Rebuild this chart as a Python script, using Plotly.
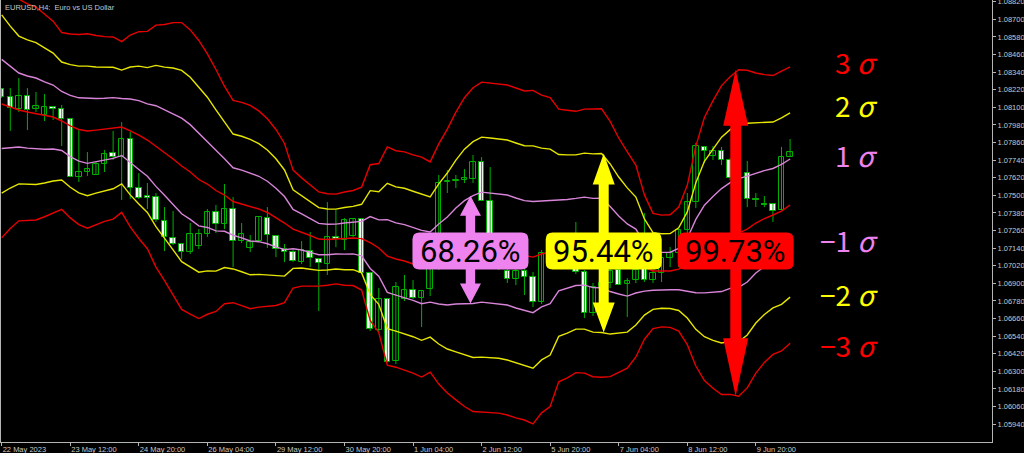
import plotly.graph_objects as go

# ---------------- data (EURUSD H4) ----------------
bars = list(range(93))

opens = [1.08225, 1.08171, 1.08089, 1.08177, 1.08089, 1.08048, 1.08102, 1.08089, 1.08020, 1.07625,
         1.07659, 1.07639, 1.07714, 1.07789, 1.07761, 1.07884, 1.07550, 1.07495, 1.07489, 1.07325,
         1.07209, 1.07168, 1.07113, 1.07154, 1.07236, 1.07386, 1.07304, 1.07407, 1.07188, 1.07141,
         1.07188, 1.07345, 1.07222, 1.07134, 1.07113, 1.07045, 1.07120, 1.07066, 1.07032, 1.07216,
         1.07195, 1.07222, 1.07338, 1.06970, 1.06581, 1.06793, 1.06370, 1.06793, 1.06854, 1.06800,
         1.06861, 1.07004, 1.07591, 1.07598, 1.07604, 1.07611, 1.07727, 1.07461, 1.07195, 1.06984,
         1.06929, 1.06984, 1.06943, 1.06772, 1.07107, 1.07059, 1.07141, 1.07018, 1.06977, 1.06697,
         1.06875, 1.06902, 1.06991, 1.06895, 1.06922, 1.07004, 1.06922, 1.06970, 1.07072, 1.07107,
         1.07263, 1.07454, 1.07830, 1.07768, 1.07802, 1.07741, 1.07618, 1.07652, 1.07475, 1.07441,
         1.07441, 1.07400, 1.07761]
highs = [1.08232, 1.08232, 1.08300, 1.08232, 1.08205, 1.08191, 1.08102, 1.08116, 1.08020, 1.07945,
         1.07795, 1.07727, 1.07809, 1.07939, 1.08000, 1.07932, 1.07652, 1.07584, 1.07516, 1.07420,
         1.07393, 1.07175, 1.07311, 1.07270, 1.07407, 1.07434, 1.07577, 1.07489, 1.07311, 1.07229,
         1.07352, 1.07420, 1.07222, 1.07168, 1.07127, 1.07188, 1.07250, 1.07066, 1.07454, 1.07400,
         1.07345, 1.07345, 1.07338, 1.06970, 1.06868, 1.06793, 1.06909, 1.06957, 1.06922, 1.06847,
         1.07025, 1.07639, 1.07673, 1.07639, 1.07679, 1.07775, 1.07761, 1.07693, 1.07209, 1.07025,
         1.07004, 1.07045, 1.06977, 1.07127, 1.07161, 1.07222, 1.07195, 1.07318, 1.06991, 1.06902,
         1.06991, 1.07004, 1.07018, 1.06936, 1.07018, 1.07379, 1.06991, 1.07107, 1.07147, 1.07263,
         1.07516, 1.07857, 1.07830, 1.07836, 1.07830, 1.07754, 1.07707, 1.07734, 1.07516, 1.07495,
         1.07441, 1.07830, 1.07884]
lows = [1.08164, 1.07939, 1.08068, 1.07945, 1.08068, 1.08007, 1.08014, 1.07836, 1.07625, 1.07591,
        1.07632, 1.07639, 1.07659, 1.07741, 1.07468, 1.07475, 1.07475, 1.07407, 1.07318, 1.07120,
        1.07161, 1.07066, 1.07100, 1.07134, 1.07216, 1.07243, 1.07270, 1.07011, 1.07175, 1.07113,
        1.07182, 1.07141, 1.07079, 1.07045, 1.07045, 1.07032, 1.07011, 1.06711, 1.06957, 1.07147,
        1.07127, 1.07216, 1.06963, 1.06575, 1.06568, 1.06363, 1.06350, 1.06779, 1.06793, 1.06602,
        1.06813, 1.06991, 1.07516, 1.07550, 1.07584, 1.07584, 1.07461, 1.07182, 1.06991, 1.06902,
        1.06888, 1.06820, 1.06738, 1.06759, 1.07045, 1.07032, 1.07004, 1.06963, 1.06663, 1.06677,
        1.06786, 1.06868, 1.06888, 1.06670, 1.06902, 1.06909, 1.06902, 1.06909, 1.07011, 1.07011,
        1.07243, 1.07413, 1.07720, 1.07741, 1.07707, 1.07604, 1.07591, 1.07420, 1.07420, 1.07420,
        1.07318, 1.07400, 1.07761]
closes = [1.08171, 1.08095, 1.08177, 1.08082, 1.08109, 1.08102, 1.08089, 1.08020, 1.07625, 1.07659,
          1.07679, 1.07714, 1.07782, 1.07761, 1.07884, 1.07550, 1.07482, 1.07482, 1.07332, 1.07216,
          1.07168, 1.07113, 1.07236, 1.07236, 1.07386, 1.07304, 1.07407, 1.07188, 1.07236, 1.07182,
          1.07352, 1.07229, 1.07134, 1.07113, 1.07052, 1.07127, 1.07072, 1.07038, 1.07216, 1.07202,
          1.07332, 1.07338, 1.06970, 1.06588, 1.06793, 1.06363, 1.06875, 1.06854, 1.06800, 1.06847,
          1.07011, 1.07584, 1.07598, 1.07604, 1.07618, 1.07727, 1.07461, 1.07195, 1.07004, 1.06929,
          1.06984, 1.06943, 1.06772, 1.07107, 1.07059, 1.07141, 1.07045, 1.06977, 1.06697, 1.06875,
          1.06902, 1.06984, 1.06888, 1.06916, 1.06991, 1.06922, 1.06970, 1.07072, 1.07107, 1.07263,
          1.07454, 1.07836, 1.07802, 1.07802, 1.07741, 1.07618, 1.07652, 1.07475, 1.07468, 1.07434,
          1.07393, 1.07761, 1.07795]

# Bollinger band middle line and standard deviation, read per bar
bb_mid = [1.08123, 1.08102, 1.08082, 1.08068, 1.08058, 1.08044, 1.08034, 1.08007, 1.07973, 1.07949,
          1.07939, 1.07945, 1.07952, 1.07959, 1.07966, 1.07939, 1.07911, 1.07877, 1.07836, 1.07792,
          1.07748, 1.07700, 1.07659, 1.07608, 1.07577, 1.07533, 1.07502, 1.07458, 1.07441, 1.07420,
          1.07407, 1.07383, 1.07349, 1.07311, 1.07270, 1.07250, 1.07226, 1.07202, 1.07199, 1.07202,
          1.07205, 1.07209, 1.07205, 1.07178, 1.07141, 1.07086, 1.07066, 1.07052, 1.07032, 1.07011,
          1.07011, 1.07032, 1.07052, 1.07086, 1.07113, 1.07130, 1.07147, 1.07141, 1.07137, 1.07127,
          1.07107, 1.07090, 1.07079, 1.07100, 1.07113, 1.07158, 1.07168, 1.07182, 1.07188, 1.07175,
          1.07175, 1.07134, 1.07093, 1.07059, 1.07052, 1.07011, 1.06984, 1.06984, 1.06984, 1.06997,
          1.07025, 1.07086, 1.07134, 1.07165, 1.07195, 1.07226, 1.07243, 1.07270, 1.07311, 1.07342,
          1.07366, 1.07393, 1.07434]
bb_sd = [0.00304, 0.00276, 0.00252, 0.00246, 0.00242, 0.00230, 0.00218, 0.00201, 0.00209, 0.00216,
         0.00221, 0.00215, 0.00210, 0.00207, 0.00194, 0.00218, 0.00235, 0.00247, 0.00275, 0.00291,
         0.00310, 0.00326, 0.00323, 0.00316, 0.00296, 0.00275, 0.00247, 0.00230, 0.00231, 0.00231,
         0.00223, 0.00213, 0.00200, 0.00181, 0.00134, 0.00123, 0.00115, 0.00107, 0.00104, 0.00102,
         0.00106, 0.00108, 0.00117, 0.00177, 0.00192, 0.00248, 0.00246, 0.00248, 0.00248, 0.00250,
         0.00239, 0.00273, 0.00300, 0.00327, 0.00351, 0.00368, 0.00375, 0.00375, 0.00374, 0.00375,
         0.00375, 0.00374, 0.00379, 0.00361, 0.00351, 0.00310, 0.00304, 0.00297, 0.00300, 0.00304,
         0.00305, 0.00290, 0.00266, 0.00246, 0.00218, 0.00164, 0.00131, 0.00127, 0.00128, 0.00141,
         0.00181, 0.00250, 0.00299, 0.00327, 0.00351, 0.00361, 0.00371, 0.00361, 0.00341, 0.00327,
         0.00317, 0.00318, 0.00314]

band_levels = [3, 2, 1, 0, -1, -2, -3]
band_colors = ["#e60000", "#e6e600", "#d884d8", "#e60000", "#d884d8", "#e6e600", "#e60000"]

x_tick_bars = [0, 8, 16, 24, 32, 40, 48, 56, 64, 72, 80, 88]
x_tick_labels = ["22 May 2023", "23 May 12:00", "24 May 20:00", "26 May 04:00", "29 May 12:00",
                 "30 May 20:00", "1 Jun 04:00", "2 Jun 12:00", "5 Jun 20:00", "7 Jun 04:00",
                 "8 Jun 12:00", "9 Jun 20:00"]
y_tick_labels = ["1.08820", "1.08700", "1.08580", "1.08460", "1.08340", "1.08220", "1.08100",
                 "1.07980", "1.07860", "1.07740", "1.07620", "1.07500", "1.07380", "1.07260",
                 "1.07140", "1.07020", "1.06900", "1.06780", "1.06660", "1.06540", "1.06420",
                 "1.06300", "1.06180", "1.06060", "1.05940"]

sigma_texts = ["3 <i>σ</i>", "2 <i>σ</i>", "1 <i>σ</i>", "−1 <i>σ</i>", "−2 <i>σ</i>", "−3 <i>σ</i>"]
sigma_colors = ["#ff0000", "#ffff00", "#ee82ee", "#ee82ee", "#ffff00", "#ff0000"]
sigma_label_prices = [1.08389, 1.08095, 1.07754, 1.07175, 1.06806, 1.06459]

pct_texts = ["68.26%", "95.44%", "99.73%"]
pct_colors = ["#ee82ee", "#ffff00", "#ff0000"]
pct_sigma = [1, 2, 3]
pct_arrow_bar = [54.7, 70.25, 85.65]
pct_box_price = 1.07120

# ---------------- geometry ----------------
X_RANGE = [-0.082, 115.56]
Y_RANGE = [1.05818, 1.08832]
PLOT_W, PLOT_H = 991, 442
PXB = PLOT_W / (X_RANGE[1] - X_RANGE[0])   # pixels per bar
PXP = PLOT_H / (Y_RANGE[1] - Y_RANGE[0])   # pixels per price unit

GREEN = "#00b000"
AXIS = "#b4b4b4"
TXT = "#c8c8c8"

fig = go.Figure()

# wicks
wx, wy = [], []
for i, h, l in zip(bars, highs, lows):
    wx += [i, i, None]
    wy += [l, h, None]
fig.add_trace(go.Scatter(x=wx, y=wy, mode="lines", line=dict(color=GREEN, width=1),
                         hoverinfo="skip", showlegend=False))

# bodies
base = [min(o, c) for o, c in zip(opens, closes)]
height = [abs(c - o) for o, c in zip(opens, closes)]
fill = ["#ffffff" if c < o else "#000000" for o, c in zip(opens, closes)]
fig.add_trace(go.Bar(x=bars, y=height, base=base, width=0.64,
                     marker=dict(color=fill, line=dict(color=GREEN, width=1)),
                     hoverinfo="skip", showlegend=False))

# Bollinger bands
for k, col in zip(band_levels, band_colors):
    fig.add_trace(go.Scatter(x=bars, y=[m + k * s for m, s in zip(bb_mid, bb_sd)], mode="lines",
                             line=dict(color=col, width=1.4), hoverinfo="skip", showlegend=False))

shapes = []
annotations = []


def rounded_box(cx, cy, w_px, h_px, r_px):
    hw, hh = w_px / 2 / PXB, h_px / 2 / PXP
    rx, ry = r_px / PXB, r_px / PXP
    l, r, t, b = cx - hw, cx + hw, cy + hh, cy - hh
    return (f"M {l+rx},{t} L {r-rx},{t} Q {r},{t} {r},{t-ry} L {r},{b+ry} Q {r},{b} {r-rx},{b} "
            f"L {l+rx},{b} Q {l},{b} {l},{b+ry} L {l},{t-ry} Q {l},{t} {l+rx},{t} Z")


def double_arrow(cx, ytop, ybot, head_hw_px, shaft_hw_px, head_len_px, head_len_bot_px):
    hw, sw = head_hw_px / PXB, shaft_hw_px / PXB
    hl, hlb = head_len_px / PXP, head_len_bot_px / PXP
    pts = [(cx, ytop), (cx + hw, ytop - hl), (cx + sw, ytop - hl), (cx + sw, ybot + hlb),
           (cx + hw, ybot + hlb), (cx, ybot), (cx - hw, ybot + hlb), (cx - sw, ybot + hlb),
           (cx - sw, ytop - hl), (cx - hw, ytop - hl)]
    return "M " + " L ".join(f"{x},{y}" for x, y in pts) + " Z"


arrow_dims = [(10.5, 4.7, 20, 20), (11, 5, 31, 30), (12.5, 5.4, 56, 58)]
for txt, col, k, xb, dims in zip(pct_texts, pct_colors, pct_sigma, pct_arrow_bar, arrow_dims):
    b = round(xb)
    ytop = bb_mid[b] + k * bb_sd[b]
    ybot = bb_mid[b] - k * bb_sd[b]
    shapes.append(dict(type="path", xref="x", yref="y", path=double_arrow(xb, ytop, ybot, *dims),
                       fillcolor=col, line=dict(width=0), layer="above"))
    shapes.append(dict(type="path", xref="x", yref="y", path=rounded_box(xb, pct_box_price, 116, 37, 7),
                       fillcolor=col, line=dict(width=0), layer="above"))
    annotations.append(dict(x=xb, y=pct_box_price, xref="x", yref="y", text=txt, showarrow=False,
                            font=dict(family="Roboto", size=31, color="#000000"),
                            xanchor="center", yanchor="middle"))

for txt, col, yp in zip(sigma_texts, sigma_colors, sigma_label_prices):
    annotations.append(dict(x=(880 - 1) / PLOT_W, y=yp, xref="paper", yref="y", text=txt,
                            showarrow=False, xanchor="right", yanchor="middle", yshift=3,
                            font=dict(family="Noto Sans CJK JP", size=28, color=col)))

annotations.append(dict(x=0.002, y=1, xref="paper", yref="paper", text="EURUSD,H4:  Euro vs US Dollar",
                        showarrow=False, xanchor="left", yanchor="top", yshift=-1,
                        font=dict(family="Liberation Sans", size=7.5, color=TXT)))

fig.update_layout(
    template="none",
    width=1024, height=453,
    margin=dict(l=1, r=32, t=0, b=11, pad=0),
    paper_bgcolor="#000000", plot_bgcolor="#000000",
    showlegend=False, bargap=0,
    shapes=shapes, annotations=annotations,
    xaxis=dict(range=X_RANGE, showgrid=False, zeroline=False, automargin=False,
               showline=True, linecolor=AXIS, linewidth=1,
               tickmode="array", tickvals=x_tick_bars, ticktext=x_tick_labels,
               ticks="outside", ticklen=3, tickwidth=1, tickcolor=AXIS,
               ticklabelposition="outside right", ticklabeloverflow="allow",
               tickfont=dict(family="Liberation Sans", size=7.5, color=TXT)),
    yaxis=dict(range=Y_RANGE, side="right", showgrid=False, zeroline=False, automargin=False,
               showline=True, mirror=True, linecolor=AXIS, linewidth=1,
               tickmode="array", tickvals=[float(v) for v in y_tick_labels], ticktext=y_tick_labels,
               ticks="outside", ticklen=3, tickwidth=1, tickcolor=AXIS, ticklabeloverflow="allow",
               tickfont=dict(family="Liberation Sans", size=7.5, color=TXT)),
)

fig.write_html("out.html", config={"displayModeBar": False})

# remove the browser's default page margin so the figure sits at the window's corner
with open("out.html", encoding="utf-8") as f:
    page = f.read()
page = page.replace("<head>", "<head><style>html,body{margin:0;padding:0;background:#000;overflow:hidden}</style>", 1)
with open("out.html", "w", encoding="utf-8") as f:
    f.write(page)
